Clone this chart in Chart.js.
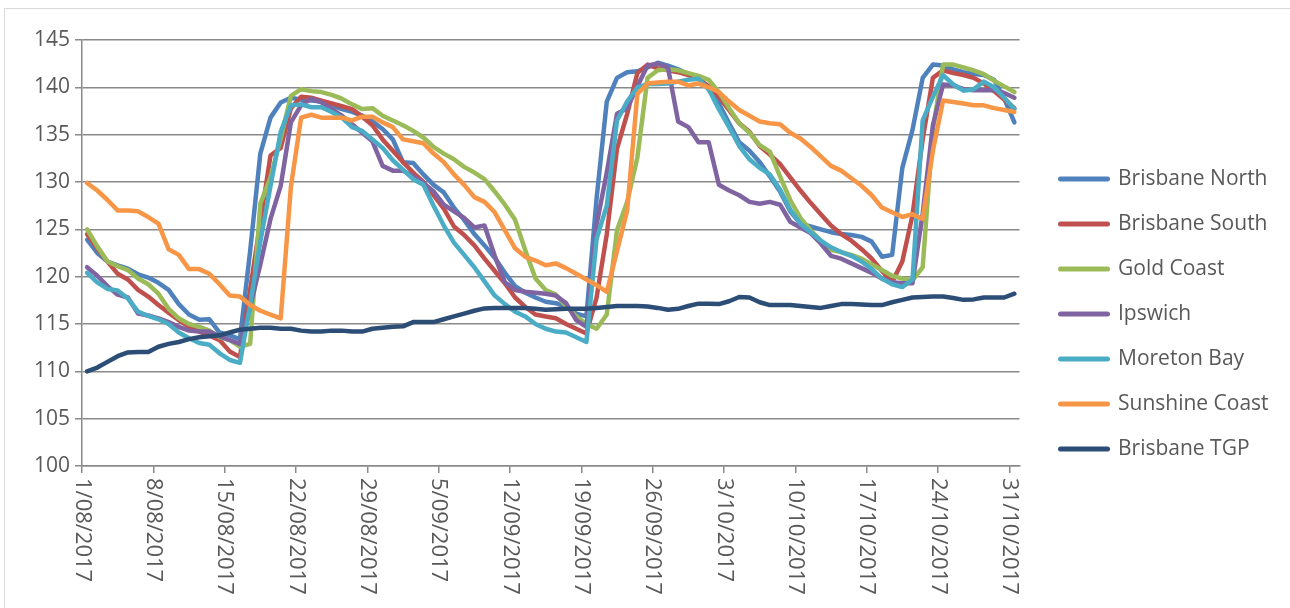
<!DOCTYPE html>
<html>
<head>
<meta charset="utf-8">
<script src="https://cdn.jsdelivr.net/npm/chart.js@4.4.1/dist/chart.umd.min.js"></script>
<style>
  html, body { margin: 0; padding: 0; background: #fff; }
  #wrap { position: relative; width: 1290px; height: 608px; }
</style>
</head>
<body>
<div id="wrap"><canvas id="chart"></canvas></div>
<script>
// weekly date ticks along the x axis
const tickLabels = ['1/08/2017', '8/08/2017', '15/08/2017', '22/08/2017', '29/08/2017', '5/09/2017',
  '12/09/2017', '19/09/2017', '26/09/2017', '3/10/2017', '10/10/2017', '17/10/2017', '24/10/2017', '31/10/2017'];

const seriesNames = ['Brisbane North', 'Brisbane South', 'Gold Coast', 'Ipswich', 'Moreton Bay', 'Sunshine Coast', 'Brisbane TGP'];
const seriesColors = ['#4F81BD', '#C0504D', '#9BBB59', '#8064A2', '#4BACC6', '#F79646', '#2C4D75'];

// daily values, 1/08/2017 .. 31/10/2017 (92 days)
const brisbaneNorth = [123.9, 122.5, 121.6, 121.2, 120.85, 120.25, 119.9, 119.35, 118.6, 117.1,
  116.0, 115.45, 115.5, 114.1, 113.8, 113.4, 122.7, 133.0, 136.8, 138.4,
  138.9, 138.7, 138.6, 138.5, 138.1, 137.7, 137.4, 137.0, 136.4, 135.6,
  134.5, 132.1, 132.0, 130.8, 129.7, 128.9, 127.3, 126.0, 124.5, 123.3,
  122.0, 120.4, 119.0, 118.3, 117.8, 117.35, 117.2, 116.8, 116.1, 115.8,
  128.3, 138.5, 141.0, 141.6, 141.7, 142.1, 142.6, 142.3, 141.9, 141.4,
  141.1, 139.8, 138.3, 136.2, 134.2, 133.3, 132.1, 130.6, 129.0, 126.9,
  125.6, 125.3, 125.0, 124.7, 124.5, 124.4, 124.2, 123.7, 122.1, 122.3,
  131.5, 135.5, 141.0, 142.4, 142.3, 141.9, 141.6, 141.4, 141.3, 140.8,
  138.8, 136.3];

const brisbaneSouth = [124.5, 123.0, 121.6, 120.3, 119.7, 118.6, 117.9, 117.0, 116.2, 115.4,
  114.7, 114.2, 113.8, 113.3, 112.1, 111.5, 118.6, 125.8, 132.8, 133.6,
  137.8, 139.0, 138.9, 138.6, 138.3, 138.0, 137.7, 136.9, 136.0, 134.5,
  133.3, 132.1, 131.0, 130.0, 128.6, 127.2, 125.3, 124.4, 123.3, 121.9,
  120.6, 119.3, 117.8, 116.8, 116.0, 115.8, 115.6, 115.0, 114.5, 114.0,
  117.8, 124.5, 133.5, 137.2, 141.5, 142.4, 142.0, 141.8, 141.6, 141.3,
  140.9, 140.1, 139.0, 137.6, 136.2, 135.3, 133.8, 132.9, 131.9, 130.5,
  129.1, 127.8, 126.6, 125.4, 124.5, 123.8, 122.9, 121.9, 120.6, 119.4,
  121.6, 126.5, 134.5, 141.0, 141.8, 141.5, 141.3, 141.0, 140.4, 139.6,
  138.7, 137.8];

const goldCoast = [125.0, 123.2, 121.6, 121.1, 120.7, 119.8, 119.2, 118.2, 116.6, 115.6,
  115.0, 114.7, 114.3, 113.6, 113.3, 112.6, 112.9, 127.7, 130.5, 134.6,
  139.1, 139.8, 139.6, 139.5, 139.2, 138.8, 138.2, 137.7, 137.8, 137.0,
  136.5, 136.0, 135.4, 134.7, 133.7, 133.0, 132.4, 131.6, 131.0, 130.3,
  129.0, 127.6, 126.0, 122.8, 119.8, 118.6, 118.1, 116.9, 115.8, 115.0,
  114.5, 116.0, 124.9, 127.9, 132.6, 141.0, 141.8, 141.9, 141.8, 141.5,
  141.2, 140.8, 139.5, 137.8, 136.2, 135.2, 133.9, 133.2, 130.6, 128.1,
  126.2, 124.9, 123.8, 122.8, 122.6, 122.3, 121.9, 121.3, 120.7, 120.1,
  119.8, 119.6, 121.0, 135.5, 142.4, 142.4, 142.1, 141.8, 141.4, 140.7,
  140.1, 139.5];

const ipswich = [121.0, 120.1, 119.0, 118.1, 117.8, 116.1, 115.9, 115.6, 115.2, 114.7,
  114.3, 114.2, 114.2, 113.7, 113.3, 112.9, 116.8, 121.3, 126.1, 129.6,
  136.3, 138.1, 138.8, 138.4, 137.7, 137.0, 136.1, 135.2, 134.3, 131.7,
  131.2, 131.2, 130.6, 129.9, 129.0, 127.6, 126.9, 126.2, 125.2, 125.4,
  122.2, 119.4, 118.6, 118.4, 118.3, 118.2, 118.0, 117.2, 115.4, 114.7,
  125.5, 131.0, 137.2, 137.8, 140.1, 142.3, 142.5, 142.1, 136.4, 135.8,
  134.2, 134.2, 129.7, 129.1, 128.6, 127.9, 127.7, 127.9, 127.6, 125.8,
  125.2, 124.6, 123.5, 122.2, 121.9, 121.4, 120.9, 120.4, 119.8, 119.4,
  119.3, 119.3, 126.7, 136.0, 140.3, 140.2, 139.8, 139.7, 139.7, 139.7,
  139.4, 138.9];

const moretonBay = [120.4, 119.4, 118.7, 118.55, 117.7, 116.3, 115.85, 115.5, 115.0, 114.1,
  113.5, 113.0, 112.8, 111.9, 111.2, 110.9, 117.0, 123.7, 129.6, 135.3,
  138.1, 138.2, 137.9, 137.9, 137.4, 136.8, 135.8, 135.4, 134.5, 133.6,
  132.3, 131.3, 130.3, 129.7, 127.5, 125.4, 123.6, 122.3, 121.0, 119.5,
  118.0, 117.1, 116.3, 115.8, 115.0, 114.5, 114.2, 114.1, 113.6, 113.1,
  124.0, 127.5, 136.5, 138.5, 140.0, 140.35, 140.35, 140.4, 140.6, 140.8,
  140.9, 139.8, 137.7, 135.8, 133.8, 132.4, 131.5, 130.8, 129.2, 127.1,
  125.6, 124.7, 123.8, 123.1, 122.6, 122.2, 121.6, 120.8, 119.8, 119.2,
  118.9, 119.7, 136.5, 139.0, 141.3, 140.3, 139.65, 139.8, 140.6, 140.0,
  138.9, 137.7];

const sunshineCoast = [129.9, 129.1, 128.1, 127.0, 127.0, 126.9, 126.3, 125.6, 122.9, 122.3,
  120.8, 120.8, 120.3, 119.2, 118.0, 117.9, 117.0, 116.4, 116.0, 115.6,
  129.5, 136.8, 137.1, 136.8, 136.8, 136.8, 136.5, 136.9, 136.9, 136.3,
  135.8, 134.5, 134.3, 134.1, 133.0, 132.1, 130.8, 129.7, 128.4, 127.9,
  126.8, 124.9, 123.0, 122.1, 121.7, 121.2, 121.4, 120.9, 120.3, 119.7,
  119.1, 118.4, 122.7, 127.0, 139.3, 140.4, 140.5, 140.6, 140.6, 140.2,
  140.4, 140.0, 139.5, 138.5, 137.6, 137.0, 136.4, 136.2, 136.1, 135.2,
  134.6, 133.7, 132.7, 131.7, 131.2, 130.4, 129.6, 128.6, 127.3, 126.8,
  126.3, 126.6, 126.1, 133.3, 138.6, 138.45, 138.3, 138.1, 138.1, 137.8,
  137.6, 137.4];

const brisbaneTGP = [110.0, 110.4, 111.0, 111.6, 112.0, 112.05, 112.05, 112.6, 112.9, 113.1,
  113.4, 113.6, 113.7, 113.8, 114.1, 114.4, 114.5, 114.6, 114.6, 114.5,
  114.5, 114.3, 114.2, 114.2, 114.3, 114.3, 114.2, 114.2, 114.5, 114.6,
  114.7, 114.75, 115.2, 115.2, 115.2, 115.5, 115.8, 116.1, 116.4, 116.65,
  116.7, 116.7, 116.7, 116.7, 116.6, 116.5, 116.55, 116.6, 116.6, 116.6,
  116.7, 116.8, 116.9, 116.9, 116.9, 116.85, 116.7, 116.5, 116.6, 116.9,
  117.15, 117.15, 117.1, 117.4, 117.85, 117.8, 117.3, 117.0, 117.0, 117.0,
  116.9, 116.8, 116.7, 116.9, 117.1, 117.1, 117.05, 117.0, 117.0, 117.3,
  117.55, 117.8, 117.85, 117.9, 117.9, 117.75, 117.55, 117.6, 117.8, 117.8,
  117.8, 118.2];

const seriesValues = [brisbaneNorth, brisbaneSouth, goldCoast, ipswich, moretonBay, sunshineCoast, brisbaneTGP];

const textColor = '#595959';
const gridColor = '#898989';
const fontFamily = "'Open Sans', sans-serif";
Chart.defaults.font.family = fontFamily;
Chart.defaults.color = textColor;

// legend sizing: the legend box starts a fixed distance right of the plot
const legendFontSize = 21;
const legendLine = 47;
const legendPad = 24;
const measureCtx = document.createElement('canvas').getContext('2d');
measureCtx.font = legendFontSize + 'px ' + fontFamily;
const legendTextW = Math.max(...seriesNames.map(n => measureCtx.measureText(n).width));
const legendW = legendPad + legendLine + legendFontSize / 2 + legendTextW + 10;
const legendLeft = 1036.5;
const rightPad = Math.max(0, 1290 - legendLeft - legendW);

// rotated date labels reading top to bottom, like the original
const dateTickLabels = {
  id: 'dateTickLabels',
  afterDraw(chart) {
    const xs = chart.scales.x;
    const ctx = chart.ctx;
    ctx.save();
    ctx.font = '22px ' + fontFamily;
    ctx.fillStyle = textColor;
    ctx.textAlign = 'left';
    ctx.textBaseline = 'middle';
    xs.ticks.forEach((t, j) => {
      ctx.save();
      ctx.translate(xs.getPixelForValue(t.value), xs.top + 12);
      ctx.rotate(Math.PI / 2);
      ctx.fillText(tickLabels[j], 0, 0);
      ctx.restore();
    });
    ctx.restore();
  }
};

// light outer border of the chart object
const chartFrame = {
  id: 'chartFrame',
  beforeDraw(chart) {
    const ctx = chart.ctx;
    ctx.save();
    ctx.fillStyle = '#fff';
    ctx.fillRect(0, 0, chart.width, chart.height);
    ctx.strokeStyle = '#d9d9d9';
    ctx.lineWidth = 1;
    ctx.strokeRect(4.5, 8.5, chart.width + 10, chart.height + 10);
    ctx.restore();
  }
};

const datasets = seriesValues.map((vals, i) => ({
  label: seriesNames[i],
  data: vals.map((v, d) => ({ x: d, y: v })),
  borderColor: seriesColors[i],
  backgroundColor: seriesColors[i],
  borderWidth: 4.5,
  borderJoinStyle: 'round',
  borderCapStyle: 'round',
  pointRadius: 0,
  pointHoverRadius: 0,
  tension: 0,
  order: seriesValues.length - 1 - i
}));

new Chart(document.getElementById('chart'), {
  type: 'line',
  data: { datasets },
  plugins: [chartFrame, dateTickLabels],
  options: {
    responsive: true,
    maintainAspectRatio: false,
    animation: false,
    devicePixelRatio: 1,
    layout: { padding: { top: 40, bottom: 20, left: 0, right: rightPad } },
    scales: {
      x: {
        type: 'linear',
        min: -0.5,
        max: brisbaneNorth.length - 0.5,
        afterBuildTicks(scale) {
          scale.ticks = tickLabels.map((_, j) => ({ value: j * 7 - 0.5 }));
        },
        afterFit(scale) { scale.height = 122; },
        ticks: { display: false },
        grid: { drawOnChartArea: false, drawTicks: true, tickLength: 7, color: gridColor, lineWidth: 1.5 },
        border: { color: gridColor, width: 1.5 }
      },
      y: {
        min: 100,
        max: 145,
        afterFit(scale) { scale.width = 82; },
        ticks: { stepSize: 5, padding: 5, font: { size: 21 }, color: textColor },
        grid: { color: gridColor, lineWidth: 1.5, tickLength: 7 },
        border: { color: gridColor, width: 1.5 }
      },
      gap: {
        type: 'linear',
        position: 'right',
        display: true,
        afterFit(scale) { scale.width = legendLeft - 1019.5; },
        ticks: { display: false },
        grid: { display: false },
        border: { display: false }
      }
    },
    plugins: {
      tooltip: { enabled: false },
      legend: {
        position: 'right',
        maxWidth: 400,
        labels: {
          usePointStyle: true,
          pointStyle: 'line',
          pointStyleWidth: legendLine,
          padding: legendPad,
          color: textColor,
          font: { size: legendFontSize },
          sort: (a, b) => a.datasetIndex - b.datasetIndex,
          generateLabels(chart) {
            return Chart.defaults.plugins.legend.labels.generateLabels(chart).map(item => {
              const c = chart.data.datasets[item.datasetIndex].borderColor;
              return Object.assign(item, { strokeStyle: c, fillStyle: c, lineWidth: 5, lineCap: 'round', pointStyle: 'line' });
            });
          }
        }
      }
    }
  }
});
</script>
</body>
</html>
